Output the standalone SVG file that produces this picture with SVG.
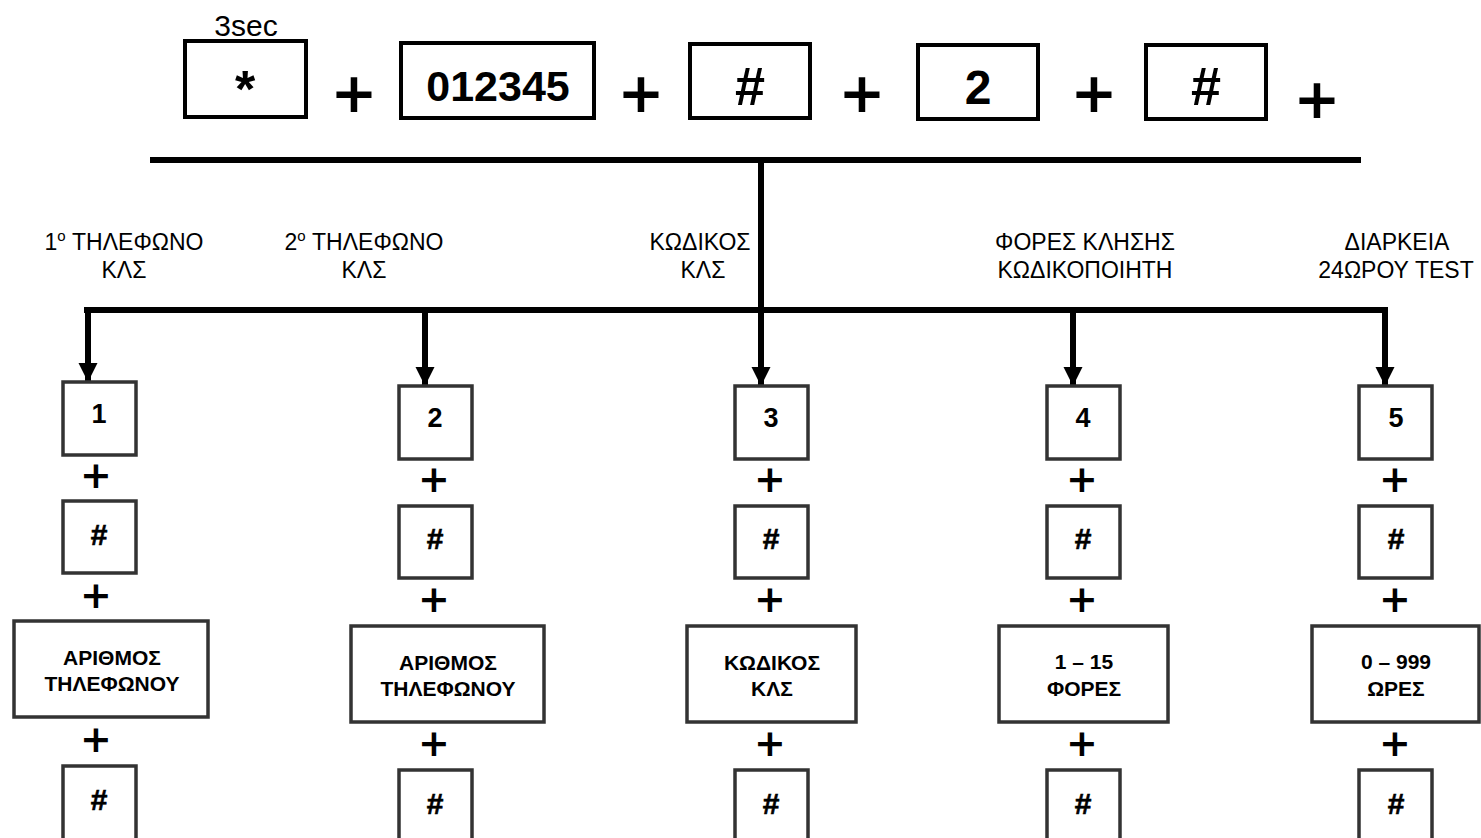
<svg xmlns="http://www.w3.org/2000/svg" width="1481" height="838" viewBox="0 0 1481 838">
<defs>
<style>
.tb{fill:#fff;stroke:#000;stroke-width:4}
.bb{fill:#fff;stroke:#333;stroke-width:3.5}
.t{font-family:"Liberation Sans",Arial,sans-serif;fill:#000;text-anchor:middle}
.b{font-weight:bold}
.pl{font-family:"DejaVu Sans",sans-serif;font-weight:bold;fill:#000;text-anchor:middle}
.lab{font-family:"Liberation Sans",Arial,sans-serif;font-size:23px;fill:#000;text-anchor:middle}
.bx{font-family:"Liberation Sans",Arial,sans-serif;font-size:21px;font-weight:bold;fill:#000;text-anchor:middle}
.dg{font-family:"Liberation Sans",Arial,sans-serif;font-size:27px;font-weight:bold;fill:#000;text-anchor:middle}
.hs{font-family:"Liberation Sans",Arial,sans-serif;font-size:30px;font-weight:bold;fill:#000;text-anchor:middle;stroke:#000;stroke-width:0.6}
.ln{stroke:#000;stroke-width:6;fill:none}
</style>
<marker id="ah" viewBox="0 0 10 10" refX="10" refY="5" markerWidth="3.2" markerHeight="3.2" markerUnits="strokeWidth" orient="auto">
<path d="M0,0 L10,5 L0,10 z" fill="#000"/>
</marker>
</defs>

<g id="top-sequence">
<text class="t" x="246" y="36" font-size="30">3sec</text>
<g id="key-star"><rect class="tb" x="185" y="41" width="121" height="76"/><text class="t b" x="245" y="107" font-size="52">*</text></g>
<text class="pl" x="354" y="112" font-size="56">+</text>
<g id="key-code"><rect class="tb" x="401" y="43" width="193" height="75"/><text class="t b" x="498" y="101" font-size="43">012345</text></g>
<text class="pl" x="641" y="112" font-size="56">+</text>
<g id="key-hash1"><rect class="tb" x="690" y="44" width="120" height="74"/><text class="t b" x="750" y="105" font-size="54">#</text></g>
<text class="pl" x="862" y="112" font-size="56">+</text>
<g id="key-2"><rect class="tb" x="918" y="45" width="120" height="74"/><text class="t b" x="978" y="104" font-size="48">2</text></g>
<text class="pl" x="1094" y="112" font-size="56">+</text>
<g id="key-hash2"><rect class="tb" x="1146" y="45" width="120" height="74"/><text class="t b" x="1206" y="105" font-size="54">#</text></g>
<text class="pl" x="1317" y="118" font-size="56">+</text>
</g>

<g id="connectors">
<line class="ln" x1="150" y1="160" x2="1361" y2="160"/>
<line class="ln" x1="761" y1="160" x2="761" y2="310"/>
<line class="ln" x1="84" y1="310" x2="1388" y2="310"/>
<line class="ln" x1="88" y1="310" x2="88" y2="382" marker-end="url(#ah)"/>
<line class="ln" x1="425" y1="310" x2="425" y2="386" marker-end="url(#ah)"/>
<line class="ln" x1="761" y1="310" x2="761" y2="386" marker-end="url(#ah)"/>
<line class="ln" x1="1073" y1="310" x2="1073" y2="386" marker-end="url(#ah)"/>
<line class="ln" x1="1385" y1="310" x2="1385" y2="386" marker-end="url(#ah)"/>
</g>

<g id="labels">
<text class="lab" x="124" y="250">1<tspan font-size="15" dy="-9">o</tspan><tspan dy="9"> ΤΗΛΕΦΩΝΟ</tspan></text>
<text class="lab" x="124" y="278">ΚΛΣ</text>
<text class="lab" x="364" y="250">2<tspan font-size="15" dy="-9">o</tspan><tspan dy="9"> ΤΗΛΕΦΩΝΟ</tspan></text>
<text class="lab" x="364" y="278">ΚΛΣ</text>
<text class="lab" x="700" y="250">ΚΩΔΙΚΟΣ</text>
<text class="lab" x="703" y="278">ΚΛΣ</text>
<text class="lab" x="1085" y="250">ΦΟΡΕΣ ΚΛΗΣΗΣ</text>
<text class="lab" x="1085" y="278">ΚΩΔΙΚΟΠΟΙΗΤΗ</text>
<text class="lab" x="1397" y="250">ΔΙΑΡΚΕΙΑ</text>
<text class="lab" x="1396" y="278">24ΩΡΟΥ TEST</text>
</g>

<g id="col1">
<rect class="bb" x="63" y="382" width="73" height="73"/><text class="dg" x="99" y="423">1</text>
<text class="pl" x="96" y="488" font-size="38">+</text>
<rect class="bb" x="63" y="501" width="73" height="72"/><text class="hs" x="99" y="545">#</text>
<text class="pl" x="96" y="608" font-size="38">+</text>
<rect class="bb" x="14" y="621" width="194" height="96"/>
<text class="bx" x="112" y="665">ΑΡΙΘΜΟΣ</text><text class="bx" x="112" y="691">ΤΗΛΕΦΩΝΟΥ</text>
<text class="pl" x="96" y="752" font-size="38">+</text>
<rect class="bb" x="63" y="766" width="73" height="80"/><text class="hs" x="99" y="810">#</text>
</g>

<g id="col2">
<rect class="bb" x="399" y="386" width="73" height="73"/><text class="dg" x="435" y="427">2</text>
<text class="pl" x="434" y="492" font-size="38">+</text>
<rect class="bb" x="399" y="506" width="73" height="72"/><text class="hs" x="435" y="549">#</text>
<text class="pl" x="434" y="612" font-size="38">+</text>
<rect class="bb" x="351" y="626" width="193" height="96"/>
<text class="bx" x="448" y="670">ΑΡΙΘΜΟΣ</text><text class="bx" x="448" y="696">ΤΗΛΕΦΩΝΟΥ</text>
<text class="pl" x="434" y="756" font-size="38">+</text>
<rect class="bb" x="399" y="770" width="73" height="80"/><text class="hs" x="435" y="814">#</text>
</g>

<g id="col3">
<rect class="bb" x="735" y="386" width="73" height="73"/><text class="dg" x="771" y="427">3</text>
<text class="pl" x="770" y="492" font-size="38">+</text>
<rect class="bb" x="735" y="506" width="73" height="72"/><text class="hs" x="771" y="549">#</text>
<text class="pl" x="770" y="612" font-size="38">+</text>
<rect class="bb" x="687" y="626" width="169" height="96"/>
<text class="bx" x="772" y="670">ΚΩΔΙΚΟΣ</text><text class="bx" x="772" y="696">ΚΛΣ</text>
<text class="pl" x="770" y="756" font-size="38">+</text>
<rect class="bb" x="735" y="770" width="73" height="80"/><text class="hs" x="771" y="814">#</text>
</g>

<g id="col4">
<rect class="bb" x="1047" y="386" width="73" height="73"/><text class="dg" x="1083" y="427">4</text>
<text class="pl" x="1082" y="492" font-size="38">+</text>
<rect class="bb" x="1047" y="506" width="73" height="72"/><text class="hs" x="1083" y="549">#</text>
<text class="pl" x="1082" y="612" font-size="38">+</text>
<rect class="bb" x="999" y="626" width="169" height="96"/>
<text class="bx" x="1084" y="669">1 – 15</text><text class="bx" x="1084" y="696">ΦΟΡΕΣ</text>
<text class="pl" x="1082" y="756" font-size="38">+</text>
<rect class="bb" x="1047" y="770" width="73" height="80"/><text class="hs" x="1083" y="814">#</text>
</g>

<g id="col5">
<rect class="bb" x="1359" y="386" width="73" height="73"/><text class="dg" x="1396" y="427">5</text>
<text class="pl" x="1395" y="492" font-size="38">+</text>
<rect class="bb" x="1359" y="506" width="73" height="72"/><text class="hs" x="1396" y="549">#</text>
<text class="pl" x="1395" y="612" font-size="38">+</text>
<rect class="bb" x="1312" y="626" width="167" height="96"/>
<text class="bx" x="1396" y="669">0 – 999</text><text class="bx" x="1396" y="696">ΩΡΕΣ</text>
<text class="pl" x="1395" y="756" font-size="38">+</text>
<rect class="bb" x="1359" y="770" width="73" height="80"/><text class="hs" x="1396" y="814">#</text>
</g>
</svg>
